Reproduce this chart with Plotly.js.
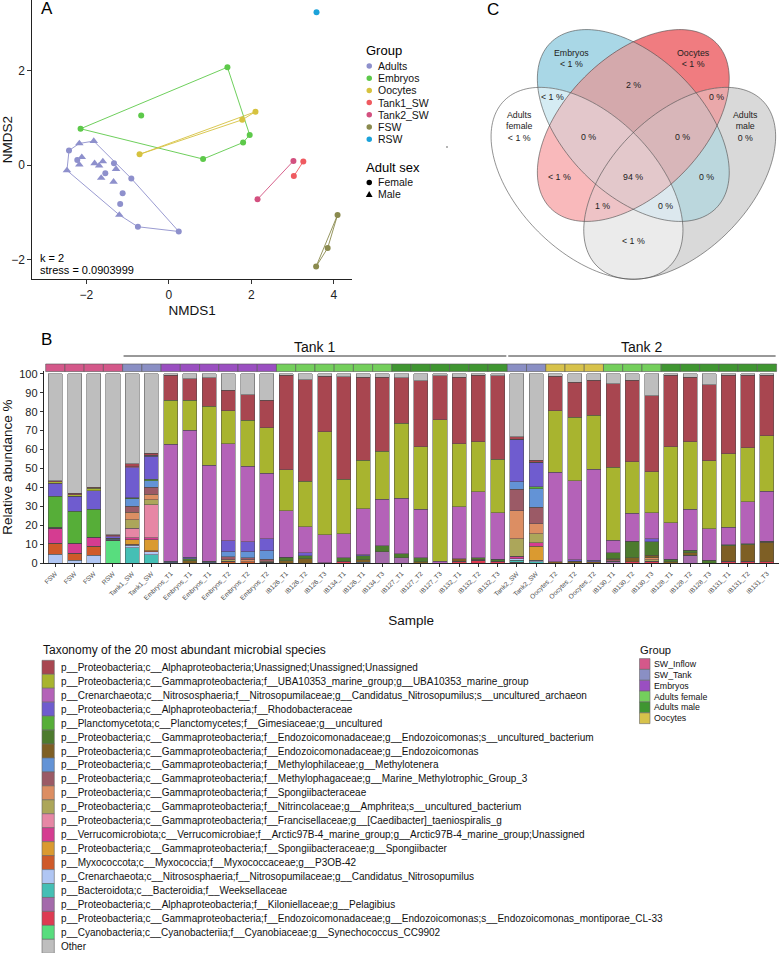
<!DOCTYPE html>
<html><head><meta charset="utf-8">
<script src="https://cdn.plot.ly/plotly-3.0.1.min.js"></script>
<style>html,body{margin:0;padding:0;background:#fff}#chart{width:779px;height:953px}</style>
</head><body><div id="chart"></div>
<script>
// ================= DATA =================
// Panel A: NMDS
const nmdsGroup = ["Adults","Adults","Adults","Adults","Adults","Adults","Adults","Adults","Adults",
  "Adults","Adults","Adults","Adults","Adults","Adults","Adults","Adults","Adults","Adults","Adults","Adults",
  "Embryos","Embryos","Embryos","Embryos","Embryos","Embryos",
  "Oocytes","Oocytes","Oocytes",
  "Tank1_SW","Tank1_SW","Tank2_SW","Tank2_SW",
  "FSW","FSW","FSW","RSW"];
const nmdsSex = ["Female","Female","Female","Female","Female","Female","Female","Female","Female",
  "Male","Male","Male","Male","Male","Male","Male","Male","Male","Male","Male","Male",
  "Female","Female","Female","Female","Female","Female","Female","Female","Female",
  "Female","Female","Female","Female","Female","Female","Female","Female"];
const nmds1 = [-2.42,-2.22,-1.54,-1.33,-0.91,-1.12,-1.18,-0.75,0.24,
  -2.17,-1.82,-2.47,-2.11,-2.17,-1.80,-1.69,-1.60,-1.64,-1.34,-1.28,-1.20,
  -2.14,1.42,1.96,1.80,0.83,-0.67,
  -0.71,1.78,2.10,
  3.26,3.03,3.02,2.15,
  4.09,3.85,3.57,3.58];
const nmds2 = [0.31,0.11,-0.17,0.04,-0.28,-0.59,-0.82,-1.30,-1.40,
  0.46,0.51,-0.11,0.17,0.01,0.04,-0.01,0.08,-0.27,-0.35,-0.08,-1.05,
  0.77,2.07,0.64,0.48,0.13,1.05,
  0.23,0.96,1.13,
  0.08,-0.23,0.09,-0.72,
  -1.05,-1.75,-2.14,3.23];
const nmdsGroupOrder = ["Adults","Embryos","Oocytes","Tank1_SW","Tank2_SW","FSW","RSW"];
const nmdsStress = "0.0903999";
const nmdsK = 2;

// Panel B: relative abundance
const sampleLabels = ["FSW","FSW","FSW","RSW","Tank1_SW","Tank1_SW","Embryos_T1","Embryos_T1","Embryos_T1",
  "Embryos_T2","Embryos_T2","Embryos_T2","IB126_T1","IB126_T2","IB126_T3","IB134_T1","IB126_T1","IB134_T3",
  "IB127_T1","IB127_T2","IB127_T3","IB132_T1","IB132_T2","IB132_T3","Tank2_SW","Tank2_SW",
  "Oocytes_T2","Oocytes_T2","Oocytes_T2","IB130_T1","IB130_T2","IB130_T3","IB128_T1","IB128_T2","IB128_T3",
  "IB131_T1","IB131_T2","IB131_T3"];
const sampleGroup = ["SW_Inflow","SW_Inflow","SW_Inflow","SW_Inflow","SW_Tank","SW_Tank",
  "Embryos","Embryos","Embryos","Embryos","Embryos","Embryos",
  "Adults female","Adults female","Adults female","Adults female","Adults female","Adults female",
  "Adults male","Adults male","Adults male","Adults male","Adults male","Adults male",
  "SW_Tank","SW_Tank","Oocytes","Oocytes","Oocytes",
  "Adults female","Adults female","Adults female",
  "Adults male","Adults male","Adults male","Adults male","Adults male","Adults male"];
const sampleTank = [0,0,0,0,1,1,1,1,1,1,1,1,1,1,1,1,1,1,1,1,1,1,1,1,2,2,2,2,2,2,2,2,2,2,2,2,2,2];
const tankNames = ["Tank 1","Tank 2"];

const alphaUnassigned = [0.6,0.9,0.5,0.5,1.5,1.0,13.3,11.3,15.0,10.7,13.3,14.5,50.0,53.5,29.3,54.2,43.9,39.2,24.1,34.8,23.3,35.2,35.1,44.2,1.4,1.2,18.2,18.5,18.5,44.1,43.0,40.1,37.8,34.0,40.1,41.6,38.1,32.1];
const uba10353 = [0.6,0.6,1.3,0,0,0,23.3,15.8,31.0,17.5,24.2,24.0,21.6,24.0,54.5,28.8,25.6,25.3,39.7,33.1,74.6,33.2,26.5,28.0,0,0,32.6,33.4,28.4,38.4,27.3,21.5,40.0,35.6,35.8,38.8,28.5,29.1];
const nitrosoArchaeon = [0.3,0,0,0.5,0.5,0.5,61.5,66.9,50.8,51.0,40.0,34.5,24.4,13.7,14.7,12.5,24.2,24.4,29.1,25.4,1.1,27.3,34.9,24.7,0,0,47.3,41.6,48.0,6.7,14.7,13.8,19.4,21.7,16.7,9.0,22.1,26.5];
const rhodobacteraceae = [6.7,8.0,9.7,0.8,16.0,12.2,0.3,0.9,0,6.0,5.3,6.5,0,1.5,0,0,0.5,0,0,0,0,0,0,0,22.4,12.9,0,1.0,0.8,0,0,1.5,0,0,0,0,0,0];
const gimesiaceae = [16.3,16.8,14.7,0,0,0.8,0,0,0,0,0,0,0,0,0,0,0,0,0,0,0,0,0,0,0,0.9,0,0,0,0,0,0,0,0,0,0,0,0];
const endozUncultured = [0.5,0,0,0,0.5,0,0,1.0,0,0,0,0,2.0,1.5,0,1.8,2.0,3.3,2.1,2.3,0,0,0.6,0.9,0,0,0,0,0,3.1,8.6,7.3,1.4,1.3,1.6,0.7,0.5,0.5];
const endozoicomonas = [0,0,0,0.5,0,0,0.3,1.4,0.5,0,0,0,1.3,2.5,0.3,0.4,1.5,0,0,0.7,0,1.3,0.6,0,0,0,0.7,1.0,0.8,0.6,2.3,1.4,0.7,1.4,0,8.0,8.8,10.4];
const methylotenera = [0,0,0,0.5,4.0,3.5,0.6,0,0.5,2.5,3.0,4.3,0,0,0,0,0.5,0,0,0,0,0,0,0,4.0,9.7,0,0,0,0,0,0,0,0,0,0,0,0];
const mmg3 = [0,0,0,0,3.0,3.5,0,0,0,1.5,1.2,1.0,0,0,0,0,0,0,0,0,0,0,0,0,11.3,8.8,0,0,0,0.6,0,0,0,0,0,0,0,0];
const spongiibacteraceae = [0,0,0,0,4.0,3.0,0,0,0,0,1.0,0.7,0,0,0,0,0,0,0,0,0,0,0,0,14.7,5.3,0,0,0,0,0,1.0,0,0,0,0,0,0];
const amphritea = [0,0,0,0,4.5,2.5,0,0,0,1.0,0,0,0,0,0,0,0,0,0,0,0,0,0,0,9.3,4.8,0,0,0,0,0,0.8,0,0,0,0,0,0];
const caedibacter = [0,0,0,0,5.0,17.5,0,0,0,0,0,0,0,0,0,0,0,0,0,0,0,0,0,0,0,0,0,0,0,0,0,0,0,0,0,0,0,0];
const arctic97B4 = [8.0,5.4,4.8,0,1.0,1.0,0,0,0,0,0,0,0,0,0,0,0,0,0,0,0,0,0,0,1.2,1.7,0,0,0,0,0,0,0,0,0,0,0,0];
const spongiibacter = [0,0,0,0,2.5,6.0,0,0,0,0,0,0.5,0,0,0,0,0,0,0,0,0,0,0,0,0,7.6,0,0,0,0,0,0,0,0,0,0,0,0];
const p3ob42 = [5.8,3.8,4.7,0,0.5,0.5,0,0,0,1.0,0.8,0,0,0,0,0,0,0,0,0,0,0,0,0,0,0,0,0,0,0,0,0,0,0,0,0,0,0];
const candNitrosopumilus = [4.7,1.5,4.3,0,1.2,1.5,0,0,0,0,0,0,0,0,0,0,0,0,0,0,0,0,0,0,1.0,0.8,0,0,0,0,0,0,0,0,0,0,0,0];
const weeksellaceae = [0,0,0,0,8.3,4.5,0,0,0,0,0,0,0,0,0,0,0,0,0,0,0,0,0,0,1.0,0.7,0,0,0,0,0,0,0,0,0,0,0,0];
const pelagibius = [0,0,0,0,0,0,0,0,0,0,0,0,0,0,0,0,0,6.0,3.0,0,0,0,0,0,0,0,0,0,0,1.2,0,0,0,4.2,0,0,0,0];
const endozMontiporae = [0,0,0,0,0,0,0,0,0,0,0,0,0,0,0,0.8,0,0,0,0,0,1.2,1.6,1.2,0.5,0,0,0,0,0,0.7,1.0,0,0,0,1.2,1.1,0.7];
const synechococcus = [0,0,0,12.2,0,0,0,0,0,0,0,0,0,0,0,0,0,0,0,0,0,0,0,0,0,0,0,0,0,0,0,0,0,0,0,0,0,0];
const otherTaxa = [56.5,63.0,60.0,85.0,47.5,42.0,0.7,2.7,2.2,8.8,11.2,14.0,0.7,3.3,1.2,1.5,1.8,1.8,2.0,3.7,1.0,1.8,0.7,1.0,33.2,45.6,1.2,4.5,3.5,5.3,3.4,11.6,0.7,1.8,5.8,0.7,0.9,0.7];

const taxonNames = [
 "p__Proteobacteria;c__Alphaproteobacteria;Unassigned;Unassigned;Unassigned",
 "p__Proteobacteria;c__Gammaproteobacteria;f__UBA10353_marine_group;g__UBA10353_marine_group",
 "p__Crenarchaeota;c__Nitrososphaeria;f__Nitrosopumilaceae;g__Candidatus_Nitrosopumilus;s__uncultured_archaeon",
 "p__Proteobacteria;c__Alphaproteobacteria;f__Rhodobacteraceae",
 "p__Planctomycetota;c__Planctomycetes;f__Gimesiaceae;g__uncultured",
 "p__Proteobacteria;c__Gammaproteobacteria;f__Endozoicomonadaceae;g__Endozoicomonas;s__uncultured_bacterium",
 "p__Proteobacteria;c__Gammaproteobacteria;f__Endozoicomonadaceae;g__Endozoicomonas",
 "p__Proteobacteria;c__Gammaproteobacteria;f__Methylophilaceae;g__Methylotenera",
 "p__Proteobacteria;c__Gammaproteobacteria;f__Methylophagaceae;g__Marine_Methylotrophic_Group_3",
 "p__Proteobacteria;c__Gammaproteobacteria;f__Spongiibacteraceae",
 "p__Proteobacteria;c__Gammaproteobacteria;f__Nitrincolaceae;g__Amphritea;s__uncultured_bacterium",
 "p__Proteobacteria;c__Gammaproteobacteria;f__Francisellaceae;g__[Caedibacter]_taeniospiralis_g",
 "p__Verrucomicrobiota;c__Verrucomicrobiae;f__Arctic97B-4_marine_group;g__Arctic97B-4_marine_group;Unassigned",
 "p__Proteobacteria;c__Gammaproteobacteria;f__Spongiibacteraceae;g__Spongiibacter",
 "p__Myxococcota;c__Myxococcia;f__Myxococcaceae;g__P3OB-42",
 "p__Crenarchaeota;c__Nitrososphaeria;f__Nitrosopumilaceae;g__Candidatus_Nitrosopumilus",
 "p__Bacteroidota;c__Bacteroidia;f__Weeksellaceae",
 "p__Proteobacteria;c__Alphaproteobacteria;f__Kiloniellaceae;g__Pelagibius",
 "p__Proteobacteria;c__Gammaproteobacteria;f__Endozoicomonadaceae;g__Endozoicomonas;s__Endozoicomonas_montiporae_CL-33",
 "p__Cyanobacteria;c__Cyanobacteriia;f__Cyanobiaceae;g__Synechococcus_CC9902",
 "Other"];
const taxonValues = [alphaUnassigned,uba10353,nitrosoArchaeon,rhodobacteraceae,gimesiaceae,endozUncultured,
  endozoicomonas,methylotenera,mmg3,spongiibacteraceae,amphritea,caedibacter,arctic97B4,spongiibacter,p3ob42,
  candNitrosopumilus,weeksellaceae,pelagibius,endozMontiporae,synechococcus,otherTaxa];
const barGroupOrder = ["SW_Inflow","SW_Tank","Embryos","Adults female","Adults male","Oocytes"];

// Panel C: Venn
const vennSets = ["Embryos","Oocytes","Adults female","Adults male"]; // bits 1,2,4,8
const vennRegionMask = [1,2,4,8,3,5,10,7,11,6,15,9,14,13,12];
const vennRegionPct  = ["< 1 %","< 1 %","< 1 %","0 %","2 %","< 1 %","0 %","0 %","0 %","< 1 %","94 %","0 %","1 %","0 %","< 1 %"];

// ================= STYLE / LAYOUT =================
const W=779,H=953;
const FONT="Liberation Sans, Arial, Helvetica, sans-serif";
const px=x=>x/W, py=y=>1-y/H;
const nmdsColors = {"Adults":"#8e90cc","Embryos":"#5dc94a","Oocytes":"#d6c23f","Tank1_SW":"#ef5a60","Tank2_SW":"#d3507f","FSW":"#8a8a4e","RSW":"#1ba2da"};
const taxonColors = ["#a84650","#a8b42f","#b462b8","#6f5ccf","#56ae38","#4d7b2e","#7e5f25","#6393d6","#9b5a66","#dc8e63",
  "#aca65a","#e687a5","#d53c91","#da9a30","#cf5a2a","#b0c6f3","#45bfb5","#a46aab","#de3b52","#58dd7e","#bebebe"];
const barGroupColors = {"SW_Inflow":"#d4588a","SW_Tank":"#8a8fc4","Embryos":"#9a4fc1","Adults female":"#74cf5c","Adults male":"#3f9631","Oocytes":"#d7c24b"};
const vennColors = {1:"#a9d7e6",2:"#f07c80",4:"#ffffff",8:"#d9d9d9",3:"#d4a9ac",5:"#d5ecf3",9:"#bbd7dd",6:"#f9b9bb",
  10:"#eaa8aa",12:"#ebebeb",7:"#e3c7cb",11:"#d8b6b9",13:"#dce8ee",14:"#eec3c6",15:"#e3c8cb"};
const vennLabelPos = {1:[571.7,58],2:[693,58],4:[519,126],8:[745.7,126],3:[633.3,85],5:[552.3,97],10:[716.7,97.3],
  7:[588.3,136.7],11:[682,136.7],6:[559.3,177.3],15:[633.3,177.3],9:[706.7,177.3],14:[602.7,205.7],13:[665,205.7],12:[633.3,240.7]};

const traces=[], shapes=[], annotations=[];
const ann=(x,y,text,o)=>annotations.push(Object.assign({xref:'paper',yref:'paper',x:px(x),y:py(y),text:text,showarrow:false,
  xanchor:'center',yanchor:'middle',font:{family:FONT,size:10,color:'#111'},borderpad:0},o||{}));
const esc=s=>s.replace(/</g,'&lt;');

// ---------- Panel A ----------
function hull(pts){
  const p=pts.slice().sort((a,b)=>a[0]-b[0]||a[1]-b[1]);
  if(p.length<3) return p;
  const cr=(o,a,b)=>(a[0]-o[0])*(b[1]-o[1])-(a[1]-o[1])*(b[0]-o[0]);
  const lo=[],up=[];
  for(const q of p){while(lo.length>=2&&cr(lo[lo.length-2],lo[lo.length-1],q)<=0)lo.pop();lo.push(q);}
  for(let i=p.length-1;i>=0;i--){const q=p[i];while(up.length>=2&&cr(up[up.length-2],up[up.length-1],q)<=0)up.pop();up.push(q);}
  up.pop();lo.pop();const h=lo.concat(up);h.push(h[0]);return h;
}
nmdsGroupOrder.forEach(g=>{
  const pts=[];nmds1.forEach((x,i)=>{if(nmdsGroup[i]===g)pts.push([x,nmds2[i]]);});
  if(pts.length>=2){const h=hull(pts);
    traces.push({type:'scatter',mode:'lines',x:h.map(p=>p[0]),y:h.map(p=>p[1]),line:{color:nmdsColors[g],width:0.9},
      xaxis:'x',yaxis:'y',hoverinfo:'skip',showlegend:false});}
});
nmdsGroupOrder.forEach(g=>{
  ["Female","Male"].forEach(s=>{
    const xs=[],ys=[];nmds1.forEach((x,i)=>{if(nmdsGroup[i]===g&&nmdsSex[i]===s){xs.push(x);ys.push(nmds2[i]);}});
    if(xs.length) traces.push({type:'scatter',mode:'markers',x:xs,y:ys,name:g+' '+s,
      marker:{color:nmdsColors[g],size:s==='Male'?7.5:6,symbol:s==='Male'?'triangle-up':'circle',line:{width:0}},
      xaxis:'x',yaxis:'y',showlegend:false});
  });
});
ann(47,8,"A",{font:{family:FONT,size:17,color:'#000'}});
ann(39,258,"k = "+nmdsK,{xanchor:'left',font:{family:FONT,size:11,color:'#000'}});
ann(39,269.5,"stress = "+nmdsStress,{xanchor:'left',font:{family:FONT,size:11,color:'#000'}});
// legend A
ann(365,50,"Group",{xanchor:'left',font:{family:FONT,size:13,color:'#000'}});
nmdsGroupOrder.forEach((g,i)=>{
  const y=66+i*12.2;
  shapes.push({type:'circle',xref:'paper',yref:'paper',x0:px(366.5),x1:px(372),y0:py(y+2.75),y1:py(y-2.75),fillcolor:nmdsColors[g],line:{width:0}});
  ann(376.5,y,g,{xanchor:'left',font:{family:FONT,size:10.5,color:'#111'}});
});
ann(365,167,"Adult sex",{xanchor:'left',font:{family:FONT,size:13,color:'#000'}});
shapes.push({type:'circle',xref:'paper',yref:'paper',x0:px(366.5),x1:px(372),y0:py(185.2),y1:py(179.7),fillcolor:'#000',line:{width:0}});
ann(376.5,182.5,"Female",{xanchor:'left',font:{family:FONT,size:10.5,color:'#111'}});
shapes.push({type:'path',xref:'paper',yref:'paper',path:`M${px(365.8)},${py(197)}L${px(372.6)},${py(197)}L${px(369.2)},${py(191)}Z`,fillcolor:'#000',line:{width:0}});
ann(376.5,194,"Male",{xanchor:'left',font:{family:FONT,size:10.5,color:'#111'}});
shapes.push({type:'circle',xref:'paper',yref:'paper',x0:px(446.3),x1:px(447.7),y0:py(147.7),y1:py(146.3),fillcolor:'#333',line:{width:0}});

// ---------- Panel B ----------
const idx=sampleLabels.map((_,i)=>i);
// stacking order: bottom = last legend taxon (before "Other"), top = "Other"
const stackOrder=[];for(let k=taxonValues.length-2;k>=0;k--)stackOrder.push(k);stackOrder.push(taxonValues.length-1);
stackOrder.forEach(k=>{
  traces.push({type:'bar',x:idx,y:taxonValues[k],name:taxonNames[k],marker:{color:taxonColors[k],line:{color:'#4a4a4a',width:0.5}},
    xaxis:'x2',yaxis:'y2',showlegend:false});
});
// group strip
sampleGroup.forEach((g,i)=>{
  shapes.push({type:'rect',xref:'x2',yref:'paper',x0:i-0.5,x1:i+0.5,y0:py(371.5),y1:py(364),fillcolor:barGroupColors[g],line:{color:'#555',width:0.6},layer:'above'});
});
// tank brackets
[1,2].forEach(t=>{
  const ids=idx.filter(i=>sampleTank[i]===t);const a=ids[0]-0.45,b=ids[ids.length-1]+0.45;
  shapes.push({type:'line',xref:'x2',yref:'paper',x0:a,x1:b,y0:py(356),y1:py(356),line:{color:'#333',width:1}});
  annotations.push({xref:'x2',yref:'paper',x:(a+b)/2,y:py(346.5),text:tankNames[t-1],showarrow:false,xanchor:'center',yanchor:'middle',font:{family:FONT,size:14,color:'#111'}});
});
ann(46,339,"B",{font:{family:FONT,size:17,color:'#000'}});
// taxonomy legend
ann(41.5,649.5,"Taxonomy of the 20 most abundant microbial species",{xanchor:'left',font:{family:FONT,size:12,color:'#111'}});
taxonNames.forEach((n,i)=>{
  const y=667.3+i*13.95;
  shapes.push({type:'rect',xref:'paper',yref:'paper',x0:px(42),x1:px(54.3),y0:py(y+6.97),y1:py(y-6.97),fillcolor:taxonColors[i],line:{color:'#666',width:0.6}});
  ann(60,y,n,{xanchor:'left',font:{family:FONT,size:10,color:'#111'}});
});
// group legend
ann(639,649.5,"Group",{xanchor:'left',font:{family:FONT,size:11.2,color:'#111'}});
barGroupOrder.forEach((g,i)=>{
  const y=664+i*10.85;
  shapes.push({type:'rect',xref:'paper',yref:'paper',x0:px(639.5),x1:px(650),y0:py(y+5.4),y1:py(y-5.4),fillcolor:barGroupColors[g],line:{color:'#666',width:0.6}});
  ann(652.5,y,g,{xanchor:'left',font:{family:FONT,size:8.8,color:'#111'}});
});

// ---------- Panel C: Venn ----------
function ellipse(cx,cy,a,b,ang,n){const pts=[],c=Math.cos(ang),s=Math.sin(ang);
  for(let i=0;i<n;i++){const t=2*Math.PI*i/n,u=a*Math.cos(t),v=b*Math.sin(t);pts.push([cx+u*c-v*s,cy+u*s+v*c]);}return pts;}
function parea(p){let s=0;for(let i=0;i<p.length;i++){const a=p[i],b=p[(i+1)%p.length];s+=a[0]*b[1]-b[0]*a[1];}return s/2;}
function clip(subj,cp){const sg=parea(cp)>0?1:-1;let out=subj;
  for(let i=0;i<cp.length&&out.length;i++){const A=cp[i],B=cp[(i+1)%cp.length],inp=out;out=[];
    const side=P=>sg*((B[0]-A[0])*(P[1]-A[1])-(B[1]-A[1])*(P[0]-A[0]));
    for(let j=0;j<inp.length;j++){const P=inp[j],Q=inp[(j+1)%inp.length],sp=side(P),sq=side(Q);
      if(sp>=0)out.push(P);
      if((sp>=0)!==(sq>=0)){const t=sp/(sp-sq);out.push([P[0]+t*(Q[0]-P[0]),P[1]+t*(Q[1]-P[1])]);}}}
  return out;}
const toPath=p=>'M'+p.map(q=>px(q[0]).toFixed(5)+','+py(q[1]).toFixed(5)).join('L')+'Z';
const VA=117,VB=68.7,R45=Math.PI/4;
const ells=[ellipse(633.3,125.5,VA,VB,R45,160),ellipse(633.3,125.5,VA,VB,-R45,160),
            ellipse(587,183.3,VA,VB,R45,160),ellipse(679.7,183.3,VA,VB,-R45,160)];
const masks=[];for(let m=1;m<16;m++)masks.push(m);
masks.sort((a,b)=>{const c=x=>(x&1)+((x>>1)&1)+((x>>2)&1)+((x>>3)&1);return c(a)-c(b)||a-b;});
masks.forEach(m=>{let poly=null;
  for(let k=0;k<4;k++){if(m&(1<<k)){poly=poly?clip(poly,ells[k]):ells[k];}}
  if(poly&&poly.length>2)shapes.push({type:'path',xref:'paper',yref:'paper',path:toPath(poly),fillcolor:vennColors[m],line:{width:0},layer:'above'});
});
ells.forEach(e=>shapes.push({type:'path',xref:'paper',yref:'paper',path:toPath(e),fillcolor:'rgba(0,0,0,0)',line:{color:'#4a4a4a',width:0.6},layer:'above'}));
vennRegionMask.forEach((m,i)=>{
  const pos=vennLabelPos[m];let txt=esc(vennRegionPct[i]);
  const single=[1,2,4,8].indexOf(m);
  if(single>=0){const nm=vennSets[single];
    txt=(nm.indexOf(' ')>0?nm.replace(' ','<br>'):nm)+'<br>'+txt;}
  ann(pos[0],pos[1],txt,{font:{family:FONT,size:8.8,color:'#222'}});
});
ann(493,9,"C",{font:{family:FONT,size:17,color:'#000'}});

// ================= LAYOUT =================
const axBase={showgrid:false,zeroline:false,showline:true,linecolor:'#222',linewidth:1,ticks:'outside',ticklen:4,tickcolor:'#333',tickwidth:1,fixedrange:true};
const layout={
  width:W,height:H,margin:{l:0,r:0,t:0,b:0,pad:0},paper_bgcolor:'#fff',plot_bgcolor:'rgba(0,0,0,0)',
  showlegend:false,barmode:'stack',bargap:0.27,font:{family:FONT},
  xaxis:Object.assign({},axBase,{domain:[px(32.3),px(352)],range:[-3.31,4.44],tickvals:[-2,0,2,4],anchor:'y',
    tickfont:{family:FONT,size:12,color:'#222'},title:{text:'NMDS1',font:{family:FONT,size:13.5,color:'#111'},standoff:4}}),
  yaxis:Object.assign({},axBase,{domain:[py(279.3),1],range:[-2.41,3.49],tickvals:[-2,0,2],anchor:'x',
    tickfont:{family:FONT,size:12,color:'#222'},title:{text:'NMDS2',font:{family:FONT,size:13.5,color:'#111'},standoff:4}}),
  xaxis2:Object.assign({},axBase,{domain:[px(43.75),px(778.5)],range:[-0.6,37.6],tickvals:idx,ticktext:sampleLabels,tickangle:-45,anchor:'y2',
    ticklen:3,tickfont:{family:FONT,size:6.6,color:'#4d4d4d'},title:{text:'Sample',font:{family:FONT,size:13.5,color:'#111'},standoff:14}}),
  yaxis2:Object.assign({},axBase,{domain:[py(563.3),py(370.9)],range:[0,101.5],tickvals:[0,10,20,30,40,50,60,70,80,90,100],anchor:'x2',
    ticklen:3,tickfont:{family:FONT,size:11,color:'#222'},title:{text:'Relative abundance %',font:{family:FONT,size:13.5,color:'#111'},standoff:6}}),
  shapes:shapes,annotations:annotations
};
Plotly.newPlot('chart',traces,layout,{staticPlot:true,displayModeBar:false});
</script></body></html>
